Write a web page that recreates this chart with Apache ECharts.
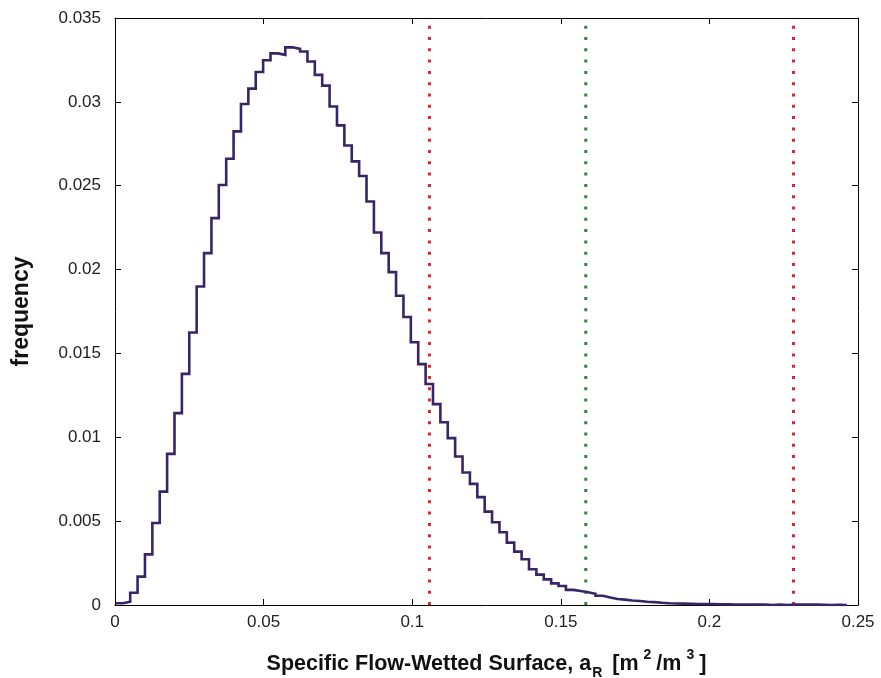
<!DOCTYPE html>
<html>
<head>
<meta charset="utf-8">
<script src="https://cdn.jsdelivr.net/npm/echarts@6/dist/echarts.min.js"></script>
<style>
  html, body { margin: 0; padding: 0; background: #fff; }
  #chart { width: 881px; height: 678px; }
</style>
</head>
<body>
<div id="chart"></div>
<script>
// Histogram of specific flow-wetted surface: lower edge of first bin, bin width, and frequencies
const binStart = 0.00014;
const binWidth = 0.002485;
const freq = [
  0.0001, 0.0002, 0.00073, 0.00169, 0.00302, 0.00489, 0.00676, 0.00901, 0.01144, 0.01378,
  0.01625, 0.01899, 0.02098, 0.02307, 0.02504, 0.02661, 0.02824, 0.02987, 0.03079, 0.03178,
  0.03248, 0.03289, 0.0328, 0.03325, 0.03316, 0.033, 0.03241, 0.03161, 0.03097, 0.02972,
  0.0286, 0.0274, 0.02645, 0.02558, 0.02406, 0.02221, 0.02098, 0.01985, 0.01844, 0.01717,
  0.01567, 0.01436, 0.01318, 0.01198, 0.0109, 0.00995, 0.00885, 0.0079, 0.00722, 0.00643,
  0.00557, 0.00493, 0.00434, 0.00372, 0.00318, 0.00273, 0.00213, 0.00181, 0.00153, 0.00129,
  0.00113, 0.0009, 0.00084, 0.00076, 0.00067, 0.00055, 0.00045, 0.00036, 0.00032, 0.00027,
  0.00024, 0.00019, 0.00017, 0.00013, 0.0001, 0.00009, 0.00008, 0.00007, 0.00006, 0.00005,
  0.00005, 0.00004, 0.00004, 0.00003, 0.00003, 0.00003, 0.00002, 0.00002, 0, 0.00002,
  0, 0.00002, 0.00002, 0.00002, 0.00002, 0.00001, 0, 0.00001, 0
];
// Vertical reference lines (x positions)
const lowerLine = 0.1058;
const middleLine = 0.1584;
const upperLine = 0.2283;
// Axis ranges
const xMin = 0, xMax = 0.25, xStep = 0.05;
const yMin = 0, yMax = 0.035, yStep = 0.005;

// stair points: each bin drawn from its lower edge, closed at the last upper edge
const stairs = freq.map((v, i) => [binStart + i * binWidth, v]);
stairs.push([binStart + freq.length * binWidth, freq[freq.length - 1]]);

function vline(x, color) {
  return {
    type: 'line',
    data: [[x, yMin], [x, yMax]],
    showSymbol: false,
    silent: true,
    z: 1,
    lineStyle: { color: color, width: 3, type: [3, 8.3], cap: 'butt' }
  };
}

const FONT = 'Liberation Sans, Arial, sans-serif';
const labelFont = { fontFamily: FONT, fontSize: 17, color: '#222' };
const frameLine = { show: true, onZero: false, lineStyle: { color: '#000', width: 1 } };
const frameTick = { show: true, inside: true, length: 6, lineStyle: { color: '#000', width: 1 } };

const chart = echarts.init(document.getElementById('chart'), null, { renderer: 'canvas' });
chart.setOption({
  animation: false,
  backgroundColor: '#fff',
  grid: { left: 115, right: 23, top: 18, bottom: 73, containLabel: false, outerBoundsMode: 'none' },
  xAxis: [{
    type: 'value', min: xMin, max: xMax, interval: xStep,
    position: 'bottom',
    axisLine: frameLine, axisTick: frameTick, splitLine: { show: false },
    axisLabel: Object.assign({ margin: 9 }, labelFont),
    name: '{b|Specific Flow-Wetted Surface, a}{sub|R}{b| [m}{sup|2}{b|/m}{sup|3}{b|]}',
    nameLocation: 'middle', nameGap: 43,
    nameTextStyle: {
      rich: {
        b: { fontFamily: FONT, fontWeight: 'bold', fontSize: 21.5, lineHeight: 32, color: '#111' },
        sub: { fontFamily: FONT, fontWeight: 'bold', fontSize: 14, lineHeight: 14, verticalAlign: 'bottom', color: '#111', padding: [0, 4, 0, 1] },
        sup: { fontFamily: FONT, fontWeight: 'bold', fontSize: 14, lineHeight: 14, verticalAlign: 'top', color: '#111', padding: [0, 5, 0, 5] }
      }
    }
  }, {
    type: 'value', min: xMin, max: xMax, interval: xStep,
    position: 'top',
    axisLine: frameLine, axisTick: frameTick, splitLine: { show: false },
    axisLabel: { show: false }
  }],
  yAxis: [{
    type: 'value', min: yMin, max: yMax, interval: yStep,
    position: 'left',
    axisLine: frameLine, axisTick: frameTick, splitLine: { show: false },
    axisLabel: Object.assign({ margin: 14 }, labelFont),
    name: 'frequency',
    nameLocation: 'middle', nameGap: 82, nameRotate: 90,
    nameTextStyle: { fontFamily: FONT, fontWeight: 'bold', fontSize: 23, color: '#111' }
  }, {
    type: 'value', min: yMin, max: yMax, interval: yStep,
    position: 'right',
    axisLine: frameLine, axisTick: frameTick, splitLine: { show: false },
    axisLabel: { show: false }
  }],
  series: [
    vline(lowerLine, '#d5282f'),
    vline(middleLine, '#2a8a3a'),
    vline(upperLine, '#d5282f'),
    {
      type: 'line',
      data: stairs,
      step: 'end',
      showSymbol: false,
      silent: true,
      z: 3,
      lineStyle: { color: '#382467', width: 2.6, cap: 'butt', join: 'miter' }
    }
  ]
});
</script>
</body>
</html>
